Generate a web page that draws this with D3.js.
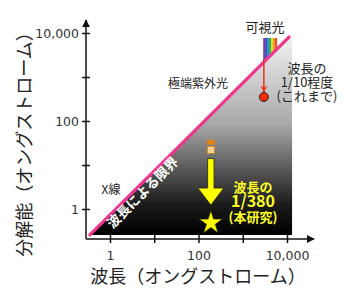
<!DOCTYPE html>
<html>
<head>
<meta charset="utf-8">
<script src="https://cdn.jsdelivr.net/npm/d3@7"></script>
<style>
  body { margin: 0; background: #fff; }
  svg text { font-family: "Noto Sans CJK JP", "Noto Sans", sans-serif; }
</style>
</head>
<body>
<div class="chart"></div>
<script>
// tick values / labels
var xTicks = [1, 10, 100, 1000, 10000];
var xTickLabels = ["1", "", "100", "", "10,000"];
var yTicks = [1, 10, 100, 1000, 10000];
var yTickLabels = ["1", "", "100", "", "10,000"];

// diffraction limit line (wavelength, resolution)
var limitWavelength = [0.35, 11100];
var limitResolution = [0.257, 8100];
var fieldMaxWavelength = 13000;

// visible light band
var visibleWavelength = [2900, 5900];
var visibleTop = 7700;
var spectrumColors = ["#7a3c9e", "#3b4cc6", "#2a8ed2", "#2fae4c", "#d6e02e", "#f2a01e", "#ea4f3a"];

// previous work (red dot)
var prevWavelength = 3000;
var prevArrowRes = [2500, 440];
var prevResolution = 350;

// this work
var thisWavelength = 190;
var thisSquares = [33, 22];
var thisArrowRes = [14, 1.23];
var thisResolution = 0.51;

var width = 350, height = 291;

var svg = d3.select(".chart").append("svg")
  .attr("width", width)
  .attr("height", height);

var x = d3.scaleLog().domain([1, 10000]).range([110, 287]);
var y = d3.scaleLog().domain([1, 10000]).range([209, 33]);

var axisX = 86, axisY = 239;

var defs = svg.append("defs");
var grad = defs.append("linearGradient")
  .attr("id", "fade")
  .attr("x1", 0).attr("y1", 0).attr("x2", 0).attr("y2", 1);
grad.append("stop").attr("offset", "0%").attr("stop-color", "#f4f4f4");
grad.append("stop").attr("offset", "45%").attr("stop-color", "#a8a8a8");
grad.append("stop").attr("offset", "85%").attr("stop-color", "#1a1a1a");
grad.append("stop").attr("offset", "100%").attr("stop-color", "#000");

defs.append("marker")
  .attr("id", "axArrow")
  .attr("viewBox", "0 0 10 10")
  .attr("refX", 9).attr("refY", 5)
  .attr("markerWidth", 8).attr("markerHeight", 8)
  .attr("markerUnits", "userSpaceOnUse")
  .attr("orient", "auto")
  .append("path").attr("d", "M0,0L10,5L0,10z").attr("fill", "#111");

defs.append("marker")
  .attr("id", "redArrow")
  .attr("viewBox", "0 0 10 10")
  .attr("refX", 9).attr("refY", 5)
  .attr("markerWidth", 8).attr("markerHeight", 8)
  .attr("markerUnits", "userSpaceOnUse")
  .attr("orient", "auto")
  .append("path").attr("d", "M0,1L10,5L0,9L3,5z").attr("fill", "#e8321e");

// line in pixels
var ratio = limitResolution[0] / limitWavelength[0];
var lx0 = x(limitWavelength[0]), ly0 = y(limitResolution[0]);
var lx1 = x(limitWavelength[1]), ly1 = y(limitResolution[1]);
var fx = x(fieldMaxWavelength), fy = y(fieldMaxWavelength * ratio);

// shaded area under the limit
svg.append("path")
  .attr("d", d3.line()([[lx0, ly0], [fx, fy], [fx, ly0], [lx0, ly0]]) + "Z")
  .attr("fill", "url(#fade)");

// visible spectrum, clipped above the line
defs.append("clipPath").attr("id", "aboveLine")
  .append("path")
  .attr("d", d3.line()([[lx0, ly0], [lx1, ly1], [lx1, 0], [lx0, 0]]) + "Z");

var sx0 = x(visibleWavelength[0]), sx1 = x(visibleWavelength[1]);
var sw = (sx1 - sx0) / spectrumColors.length;
svg.append("g").attr("clip-path", "url(#aboveLine)")
  .selectAll("rect").data(spectrumColors).enter().append("rect")
  .attr("x", (d, i) => sx0 + i * sw)
  .attr("y", y(visibleTop))
  .attr("width", sw + 0.3)
  .attr("height", 40)
  .attr("fill", d => d);

// limit line
svg.append("line")
  .attr("x1", lx0).attr("y1", ly0)
  .attr("x2", lx1).attr("y2", ly1)
  .attr("stroke", "#f0368c")
  .attr("stroke-width", 3.2)
  .attr("stroke-linecap", "round");

// axes
var xAxis = d3.axisBottom(x).tickValues(xTicks)
  .tickFormat((d, i) => xTickLabels[i]).tickSizeInner(4).tickSizeOuter(0).tickPadding(8);
var gx = svg.append("g").attr("transform", `translate(0,${axisY})`).call(xAxis);
gx.select(".domain").remove();
gx.selectAll(".tick line").attr("y1", -4).attr("stroke", "#111").attr("stroke-width", 1.5);
gx.selectAll(".tick text").attr("font-size", 12.5).attr("fill", "#333")
  .style("font-family", "'DejaVu Sans', sans-serif");

var yAxis = d3.axisLeft(y).tickValues(yTicks)
  .tickFormat((d, i) => yTickLabels[i]).tickSizeInner(4).tickSizeOuter(0).tickPadding(3);
var gy = svg.append("g").attr("transform", `translate(${axisX},0)`).call(yAxis);
gy.select(".domain").remove();
gy.selectAll(".tick line").attr("x1", 4).attr("stroke", "#111").attr("stroke-width", 1.5);
gy.selectAll(".tick text").attr("font-size", 12.5).attr("fill", "#333").attr("dy", "0.35em")
  .style("font-family", "'DejaVu Sans', sans-serif");

svg.append("line")
  .attr("x1", axisX).attr("y1", axisY).attr("x2", 314).attr("y2", axisY)
  .attr("stroke", "#111").attr("stroke-width", 1.5).attr("marker-end", "url(#axArrow)");
svg.append("line")
  .attr("x1", axisX).attr("y1", axisY).attr("x2", axisX).attr("y2", 20)
  .attr("stroke", "#111").attr("stroke-width", 1.5).attr("marker-end", "url(#axArrow)");

// axis titles
svg.append("text")
  .attr("x", 198).attr("y", 283)
  .attr("text-anchor", "middle")
  .attr("font-size", 18).attr("fill", "#222")
  .text("波長（オングストローム）");
svg.append("text")
  .attr("transform", "translate(31,140) rotate(-90)")
  .attr("text-anchor", "middle")
  .attr("font-size", 18).attr("fill", "#222")
  .text("分解能（オングストローム）");

// previous work
var px = x(prevWavelength);
svg.append("line")
  .attr("x1", px).attr("y1", y(prevArrowRes[0]))
  .attr("x2", px).attr("y2", y(prevArrowRes[1]))
  .attr("stroke", "#e8321e").attr("stroke-width", 1.5)
  .attr("marker-end", "url(#redArrow)");
svg.append("circle")
  .attr("cx", px).attr("cy", y(prevResolution)).attr("r", 4.5)
  .attr("fill", "#ff2a00").attr("stroke", "#222").attr("stroke-width", 1);

// this work
var tx = x(thisWavelength);
svg.selectAll(".sq").data(thisSquares).enter().append("rect")
  .attr("class", "sq")
  .attr("x", tx - 3.5)
  .attr("y", (d, i) => y(d) - (i === 0 ? 2 : 3.5))
  .attr("width", 7)
  .attr("height", (d, i) => i === 0 ? 4 : 7)
  .attr("fill", (d, i) => i === 0 ? "#e8860e" : "#fcd08e")
  .attr("stroke", "#d9801a").attr("stroke-width", 0.8);

var ay0 = y(thisArrowRes[0]), ay1 = y(thisArrowRes[1]);
var headTop = ay1 - 17;
svg.append("path")
  .attr("d", d3.line()([
    [tx - 3.2, ay0], [tx + 3.2, ay0], [tx + 3.2, headTop], [tx + 13, headTop],
    [tx, ay1], [tx - 13, headTop], [tx - 3.2, headTop]
  ]) + "Z")
  .attr("fill", "#ffff00").attr("stroke", "#222").attr("stroke-width", 0.8);

svg.append("path")
  .attr("transform", `translate(${tx},${y(thisResolution) + 1})`)
  .attr("d", d3.symbol(d3.symbolStar, 165)())
  .attr("fill", "#ffff00").attr("stroke", "#222").attr("stroke-width", 0.6);

// annotations
svg.append("text").attr("x", 265).attr("y", 32).attr("text-anchor", "middle")
  .attr("font-size", 13).attr("fill", "#222").text("可視光");
svg.append("text").attr("x", 198).attr("y", 88).attr("text-anchor", "middle")
  .attr("font-size", 12).attr("fill", "#222").text("極端紫外光");

// multi-line notes as one text block each
var prevLines = ["波長の", "1/10程度", "(これまで)"];
svg.append("text")
  .attr("text-anchor", "middle")
  .attr("font-size", 13).attr("fill", "#222")
  .selectAll("tspan").data(prevLines).enter().append("tspan")
  .attr("x", 307).attr("y", (d, i) => 73 + i * 14)
  .text(d => d);

svg.append("text").attr("x", 111).attr("y", 194).attr("text-anchor", "middle")
  .attr("font-size", 12).attr("fill", "#222").text("X線");

svg.append("text")
  .attr("transform", "translate(146,196) rotate(-45)")
  .attr("text-anchor", "middle")
  .attr("font-size", 13.5).attr("font-weight", "bold").attr("fill", "#fff")
  .text("波長による限界");

var thisLines = ["波長の", "1/380", "(本研究)"];
var thisSizes = [13, 16, 13];
var thisY = [192, 207, 222];
svg.append("text")
  .attr("text-anchor", "middle")
  .attr("font-weight", "bold").attr("fill", "#ffff22")
  .selectAll("tspan").data(thisLines).enter().append("tspan")
  .attr("x", 253).attr("y", (d, i) => thisY[i])
  .attr("font-size", (d, i) => thisSizes[i])
  .text(d => d);
</script>
</body>
</html>
